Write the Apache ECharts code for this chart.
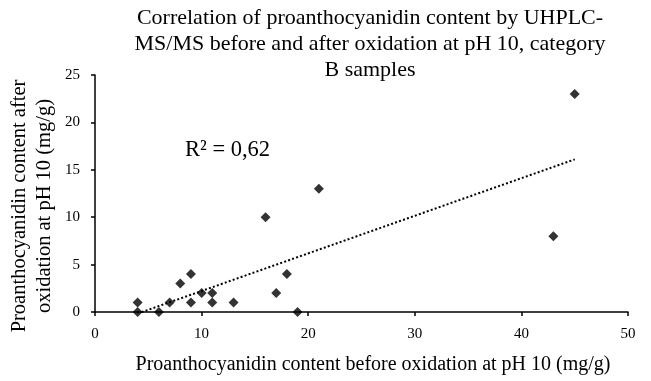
<!DOCTYPE html>
<html>
<head>
<meta charset="utf-8">
<script src="https://cdn.jsdelivr.net/npm/echarts@6/dist/echarts.min.js"></script>
<style>
  html, body { margin: 0; padding: 0; background: #fff; }
  #chart { width: 651px; height: 381px; }
</style>
</head>
<body>
<div id="chart"></div>
<script>
// Proanthocyanidin content (mg/g), category B samples
const beforeOxidation = [4, 4, 6, 7, 8, 9, 9, 10, 11, 11, 13, 16, 17, 18, 19, 21, 43, 45];
const afterOxidation  = [1, 0, 0, 1, 3, 4, 1, 2, 2, 1, 1, 10, 2, 4, 0, 13, 8, 23];
const xTicks = [0, 10, 20, 30, 40, 50];
const yTicks = [0, 5, 10, 15, 20, 25];
const r2Label = 'R² = 0,62';

const points = beforeOxidation.map((x, i) => [x, afterOxidation[i]]);

// Least-squares linear trend over the sample range
const n = points.length;
const mx = beforeOxidation.reduce((a, b) => a + b, 0) / n;
const my = afterOxidation.reduce((a, b) => a + b, 0) / n;
let sxy = 0, sxx = 0;
points.forEach(([x, y]) => { sxy += (x - mx) * (y - my); sxx += (x - mx) * (x - mx); });
const slope = sxy / sxx;
const intercept = my - slope * mx;
const xMin = Math.min(...beforeOxidation), xMax = Math.max(...beforeOxidation);
const trend = [];
for (let k = 0; k <= 50; k++) {
  const x = xMin + (xMax - xMin) * k / 50;
  trend.push([x, intercept + slope * x]);
}

const FONT = '"Liberation Serif", "Times New Roman", serif';
const chart = echarts.init(document.getElementById('chart'), null, { renderer: 'canvas' });

chart.setOption({
  animation: false,
  backgroundColor: '#fff',
  grid: { left: 95, right: 23, top: 75, bottom: 69, outerBoundsMode: 'none', containLabel: false },
  xAxis: {
    type: 'value',
    min: xTicks[0], max: xTicks[xTicks.length - 1], interval: 10,
    axisLine: { lineStyle: { color: '#000', width: 1.5 } },
    axisTick: { show: true, length: 4, lineStyle: { color: '#000', width: 1.5 } },
    splitLine: { show: false },
    axisLabel: { fontFamily: FONT, fontSize: 15, color: '#000', margin: 15 }
  },
  yAxis: {
    type: 'value',
    min: yTicks[0], max: yTicks[yTicks.length - 1], interval: 5,
    axisLine: { show: true, lineStyle: { color: '#000', width: 1.5 } },
    axisTick: { show: true, length: 4, lineStyle: { color: '#000', width: 1.5 } },
    splitLine: { show: false },
    axisLabel: { fontFamily: FONT, fontSize: 15, color: '#000', margin: 15 }
  },
  series: [
    {
      type: 'line',
      data: trend,
      showSymbol: false,
      symbol: 'none',
      clip: true,
      lineStyle: { color: '#000', width: 2, type: [2, 2.2] },
      z: 1
    },
    {
      type: 'scatter',
      data: points,
      symbol: 'diamond',
      symbolSize: 10,
      itemStyle: { color: '#000' },
      z: 2
    }
  ],
  graphic: [
    {
      type: 'text',
      x: 370,
      y: 5,
      style: {
        text: 'Correlation of proanthocyanidin content by UHPLC-\nMS/MS before and after oxidation at pH 10, category\nB samples',
        font: '22px ' + FONT, fill: '#000', textAlign: 'center', textVerticalAlign: 'top', lineHeight: 26
      }
    },
    {
      type: 'text',
      x: 185,
      y: 150,
      style: { text: r2Label, font: '22.5px ' + FONT, fill: '#000', textVerticalAlign: 'middle' }
    },
    {
      type: 'text',
      x: 373,
      y: 365,
      style: {
        text: 'Proanthocyanidin content before oxidation at pH 10 (mg/g)',
        font: '20px ' + FONT, fill: '#000', textAlign: 'center', textVerticalAlign: 'middle'
      }
    },
    {
      type: 'text',
      x: 20,
      y: 206,
      rotation: Math.PI / 2,
      style: {
        text: 'Proanthocyanidin content after',
        font: '20.5px ' + FONT, fill: '#000', textAlign: 'center', textVerticalAlign: 'middle'
      }
    },
    {
      type: 'text',
      x: 45,
      y: 206,
      rotation: Math.PI / 2,
      style: {
        text: 'oxidation at pH 10 (mg/g)',
        font: '20.5px ' + FONT, fill: '#000', textAlign: 'center', textVerticalAlign: 'middle'
      }
    }
  ]
});
</script>
</body>
</html>
